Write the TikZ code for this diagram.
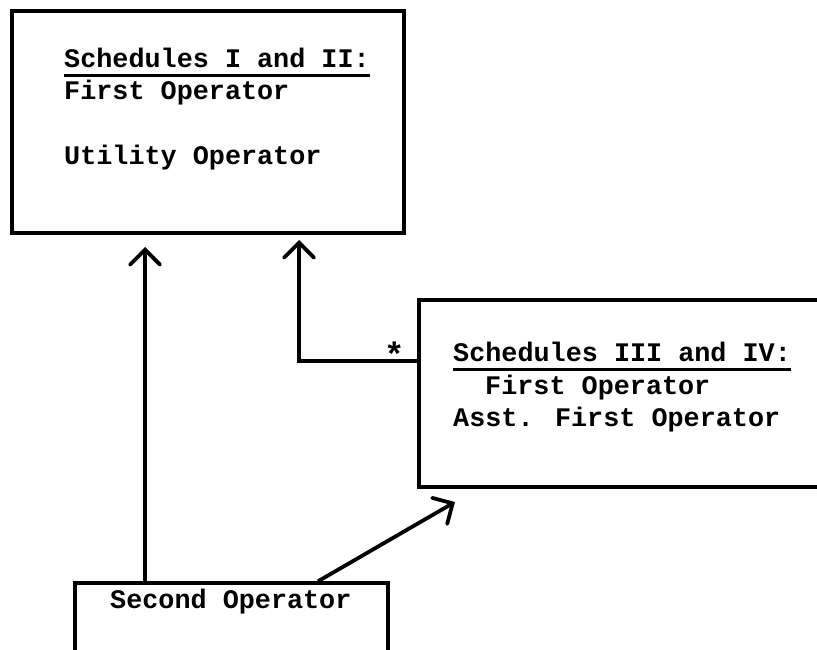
\documentclass[tikz,border=0pt]{standalone}
\usepackage{fontspec}
\newfontfamily\typer{Liberation Mono}
\usetikzlibrary{arrows.meta}
\tikzset{
	box/.style={draw,line width=3.4pt,rectangle,inner sep=0pt},
	line/.style={anchor=base west,inner sep=0pt,font=\typer\bfseries\fontsize{26.8}{32}\selectfont},
	uline/.style={line width=3pt},
	arr/.style={line width=3.8pt,-{Straight Barb[length=15pt,width=30pt,line cap=round]}}
}
\begin{document}
\begin{tikzpicture}[x=1pt,y=-1pt]
		\useasboundingbox (0,0) rectangle (817,650);
		% boxes
		\node[box,minimum width=392pt,minimum height=222pt] (box12) at (208,122) {};
		\node[box,minimum width=440pt,minimum height=187pt] (box34) at (639,393.5) {};
		\node[box,minimum width=313pt,minimum height=117pt] (second) at (231.5,641.5) {};
		% texts
		\node[line] (t12) at (64,68) {Schedules I and II:};
		\node[line] (t12a) at (64,100) {First Operator};
		\node[line] (t12b) at (64,165) {Utility Operator};
		\node[line] (t34) at (453,361) {Schedules III and IV:};
		\node[line] (t34a) at (485,394) {First Operator};
		\node[line] (t34b) at (453,426) {Asst. First Operator};
		\node[line] (t2) at (110,608) {Second Operator};
		\node[line,font=\typer\bfseries\fontsize{34}{34}\selectfont] (star) at (384,366) {*};
		\draw[uline] ([yshift=-8pt]t12.base west) -- ([yshift=-8pt]t12.base east);
		\draw[uline] ([yshift=-8pt]t34.base west) -- ([yshift=-8pt]t34.base east);
		% arrows
		\coordinate (tip1) at (145,247);
		\coordinate (tip2) at (299,240);
		\coordinate (tip3) at (455,502);
		\draw[arr] (second.north -| tip1) -- (tip1);
		\draw[arr] (box34.west |- t34.base) -| (tip2);
		\draw[arr] (second.north -| 318,0) -- (tip3);
	\end{tikzpicture}
\end{document}
